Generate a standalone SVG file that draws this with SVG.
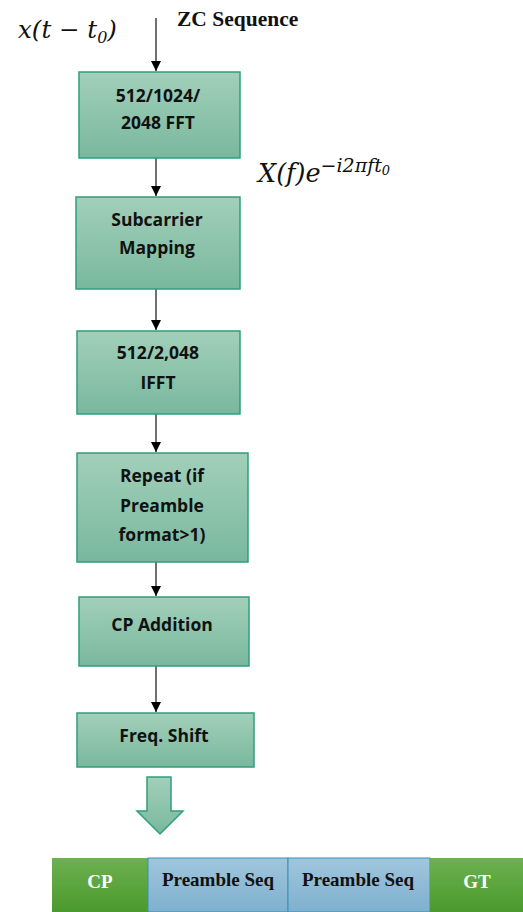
<svg xmlns="http://www.w3.org/2000/svg" width="523" height="912" viewBox="0 0 523 912">
<defs>
<linearGradient id="gBox" x1="0" y1="0" x2="0" y2="1">
<stop offset="0" stop-color="#a2cfba"/>
<stop offset="1" stop-color="#79b89e"/>
</linearGradient>
<linearGradient id="gGreen" x1="0" y1="0" x2="0" y2="1">
<stop offset="0" stop-color="#6db052"/>
<stop offset="1" stop-color="#4b9a2c"/>
</linearGradient>
<linearGradient id="gBlue" x1="0" y1="0" x2="0" y2="1">
<stop offset="0" stop-color="#a0c6dd"/>
<stop offset="1" stop-color="#7eb0cf"/>
</linearGradient>
<marker id="ah" viewBox="0 0 10 10" refX="10" refY="5" markerWidth="10" markerHeight="10" markerUnits="userSpaceOnUse" orient="auto">
<path d="M0,0 L10,5 L0,10 Z" fill="#000"/>
</marker>
<style>
.box{fill:url(#gBox);stroke:#2e9e7e;stroke-width:1.5}
.lbl{font-family:"Open Sans","Noto Sans",sans-serif;font-weight:bold;font-size:17.5px;fill:#111;text-anchor:middle}
.conn{stroke:#222;stroke-width:1.3;fill:none;marker-end:url(#ah)}
.math{font-family:"DejaVu Serif","Liberation Serif",serif;font-style:italic;fill:#111}
.bar{font-family:"Liberation Serif",serif;font-weight:bold;font-size:19px;text-anchor:middle}
</style>
</defs>

<text class="math" x="18" y="38" font-size="24.5">x(t − t<tspan font-size="16" dy="5">0</tspan><tspan dy="-5">)</tspan></text>
<text x="177" y="26" font-family="Liberation Serif,serif" font-weight="bold" font-size="21.5" fill="#111">ZC Sequence</text>
<text class="math" x="258" y="182" font-size="25.5">X(f)e<tspan font-size="19" dy="-10">−i2πft</tspan><tspan font-size="13" dy="3">0</tspan></text>

<g id="connectors">
<line class="conn" x1="156" y1="18" x2="156" y2="71"/>
<line class="conn" x1="156" y1="158" x2="156" y2="196"/>
<line class="conn" x1="156" y1="289" x2="156" y2="330"/>
<line class="conn" x1="156" y1="414" x2="156" y2="452"/>
<line class="conn" x1="156" y1="562" x2="156" y2="596"/>
<line class="conn" x1="156" y1="666" x2="156" y2="712"/>
</g>

<g id="fft">
<rect class="box" x="79" y="72" width="161" height="86"/>
<text class="lbl" x="158" y="102">512/1024/</text>
<text class="lbl" x="158" y="129">2048 FFT</text>
</g>
<g id="mapping">
<rect class="box" x="76" y="197" width="164" height="92"/>
<text class="lbl" x="157" y="226">Subcarrier</text>
<text class="lbl" x="157" y="254">Mapping</text>
</g>
<g id="ifft">
<rect class="box" x="77" y="331" width="163" height="83"/>
<text class="lbl" x="158" y="359">512/2,048</text>
<text class="lbl" x="158" y="389">IFFT</text>
</g>
<g id="repeat">
<rect class="box" x="77" y="453" width="171" height="109"/>
<text class="lbl" x="162" y="482">Repeat (if</text>
<text class="lbl" x="162" y="512">Preamble</text>
<text class="lbl" x="162" y="541">format&gt;1)</text>
</g>
<g id="cp">
<rect class="box" x="79" y="597" width="170" height="69"/>
<text class="lbl" x="162" y="631">CP Addition</text>
</g>
<g id="shift">
<rect class="box" x="77" y="713" width="177" height="54"/>
<text class="lbl" x="164" y="742">Freq. Shift</text>
</g>

<g id="blockarrow">
<path d="M147,777 L171,777 L171,811 L183,811 L160,834 L137,811 L147,811 Z" fill="url(#gBox)" stroke="#2e9e7e" stroke-width="1.5"/>
</g>

<g id="frame">
<rect x="52" y="858" width="96" height="54" fill="url(#gGreen)"/>
<rect x="148" y="858" width="140" height="54" fill="url(#gBlue)" stroke="#3a8fb8" stroke-width="1"/>
<rect x="288" y="858" width="142" height="54" fill="url(#gBlue)" stroke="#3a8fb8" stroke-width="1"/>
<rect x="430" y="858" width="93" height="54" fill="url(#gGreen)"/>
<text class="bar" x="100" y="888" fill="#fff">CP</text>
<text class="bar" x="218" y="886" fill="#111">Preamble Seq</text>
<text class="bar" x="358" y="886" fill="#111">Preamble Seq</text>
<text class="bar" x="477" y="888" fill="#fff">GT</text>
</g>
</svg>
